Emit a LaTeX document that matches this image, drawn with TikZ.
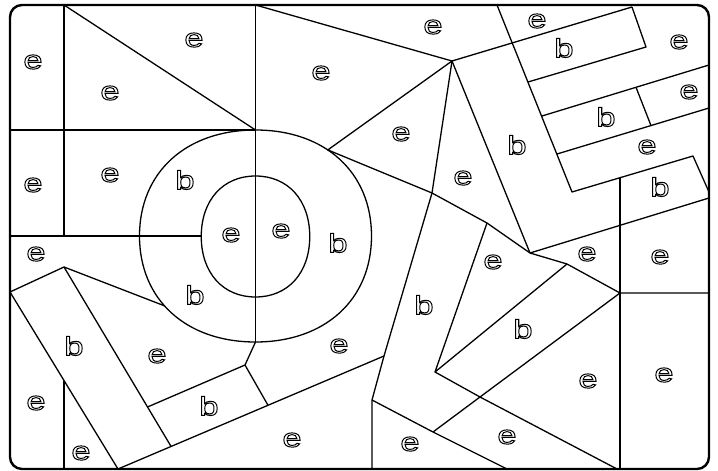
\documentclass[tikz,border=0pt]{standalone}
\usepackage{fontspec}
\newfontfamily\lblfont[FakeStretch=1.33]{Liberation Sans}
\newcommand\outl[1]{\special{pdf:literal direct 1 Tr 1 w}#1\special{pdf:literal direct 0 Tr}}
\tikzset{
  edge/.style={line width=1.3pt, line join=round},
  frame/.style={line width=2.4pt, rounded corners=12pt},
  lbl/.style={inner sep=0pt, font=\lblfont\fontsize{26}{26}\selectfont},
}
\begin{document}
\begin{tikzpicture}[x=1pt,y=-1pt]
\useasboundingbox (0,0) rectangle (718,471);
% ---- vertices
\coordinate (T64) at (64,5);
\coordinate (T255) at (255.5,5);
\coordinate (T497) at (497,5);
\coordinate (P452) at (452,61);
\coordinate (P632) at (632,7);
\coordinate (P512) at (512,43);
\coordinate (P646) at (646,47);
\coordinate (P528) at (528,82);
\coordinate (P542) at (542,116);
\coordinate (R65) at (709,65);
\coordinate (P636) at (636,87.3);
\coordinate (P651) at (651,125.6);
\coordinate (P557) at (557,154);
\coordinate (R108) at (709,108);
\coordinate (P572) at (572,192);
\coordinate (P693) at (693,156);
\coordinate (R192) at (709,192);
\coordinate (P620t) at (620,177.7);
\coordinate (B620) at (620,469);
\coordinate (P432) at (432,193);
\coordinate (P384) at (384,356);
\coordinate (P372) at (372,400);
\coordinate (B372) at (372,469);
\coordinate (P487) at (487,223);
\coordinate (P530) at (530,253);
\coordinate (R198) at (709,198);
\coordinate (P567) at (567,264);
\coordinate (P620) at (620,293);
\coordinate (R293) at (709,293);
\coordinate (P435) at (435,372);
\coordinate (P480) at (480,397);
\coordinate (B617) at (617,469);
\coordinate (P433) at (433,432);
\coordinate (B507) at (507,469);
\coordinate (L130) at (10,130);
\coordinate (P255a) at (255.5,130);
\coordinate (L236) at (10,236);
\coordinate (I236) at (201.25,236);
\coordinate (P64m) at (64,236);
\coordinate (P255b) at (255.5,342);
\coordinate (P245) at (245,365);
\coordinate (P148) at (147.5,407);
\coordinate (P268) at (268,405.3);
\coordinate (B118) at (118,469);
\coordinate (L292) at (10,292);
\coordinate (P64) at (64,267);
\coordinate (P171) at (171.1,446.5);
\coordinate (P64s) at (64,380.5);
\coordinate (B64) at (64,469);

% ---- frame
\draw[frame] (10,5) rectangle (709,469);

% ---- outer and inner rounded shapes
\draw[edge] (371.5,236) .. controls (371.5,172.4) and (325.1,130) .. (255.5,130) node[coordinate,pos=0.59] (cA) {}
  .. controls (185.9,130) and (139.5,172.4) .. (139.5,236)
  .. controls (139.5,299.6) and (185.9,342) .. (255.5,342) node[coordinate,pos=0.44] (cB) {}
  .. controls (325.1,342) and (371.5,299.6) .. (371.5,236) -- cycle;
\draw[edge] (309.75,236.5) .. controls (309.75,200.2) and (288.05,176) .. (255.5,176)
  .. controls (222.95,176) and (201.25,200.2) .. (201.25,236.5)
  .. controls (201.25,272.8) and (222.95,297) .. (255.5,297)
  .. controls (288.05,297) and (309.75,272.8) .. (309.75,236.5) -- cycle;

% ---- left part
\draw[edge] (T64) -- (P64m);
\draw[edge] (L130) -- (P255a);
\draw[edge] (T64) -- (P255a);
\draw[edge] (T255) -- (P255b);
\draw[edge] (L236) -- (I236);
\draw[edge] (L292) -- (P64) -- (cB);
\draw[edge] (L292) -- (B118);
\draw[edge] (P64) -- (P171);
\draw[edge] (P64s) -- (B64);
\draw[edge] (P255b) -- (P245) -- (P148);
\draw[edge] (P245) -- (P268);
\draw[edge] (B118) -- (P384);

% ---- middle part
\draw[edge] (T255) -- (P452);
\draw[edge] (P452) -- (P632);
\draw[edge] (P452) -- (cA) -- (P432) -- (P487) -- (P530);
\draw[edge] (P452) -- (P432) -- (P384) -- (P372) -- (B372);
\draw[edge] (P452) -- (P530);
\draw[edge] (P530) -- (R198);
\draw[edge] (P530) -- (P567) -- (P620) -- (R293);
\draw[edge] (P487) -- (P435) -- (P567);
\draw[edge] (P435) -- (P480) -- (B617);
\draw[edge] (P620) -- (P480) -- (P433);
\draw[edge] (P372) -- (P433) -- (B507);

% ---- right part
\draw[edge] (T497) -- (P572) -- (P693) -- (R192);
\draw[edge] (P632) -- (P646) -- (P528);
\draw[edge] (P542) -- (R65);
\draw[edge] (P636) -- (P651);
\draw[edge] (P557) -- (R108);
\draw[edge] (P620t) -- (B620);

% ---- labels
\foreach \n/\t/\x/\y in {
  a1/e/33/62, a2/e/194/40, a3/e/110/93, a4/e/433/27, a5/e/321/73,
  a6/e/537/21, a7/b/564/48, a8/e/679/42, a9/b/606/117, a10/e/689/92,
  a11/e/401/134, a12/b/517/145, a13/e/647/147, a14/b/660/187,
  a15/e/33/185, a16/e/110/175, a17/b/185/180, a18/e/463/178,
  a19/e/36/254, a20/e/231/235, a21/e/281/231, a22/b/338/243,
  a23/e/493/262, a24/e/587/254, a25/e/660/257, a26/b/195/295,
  a27/b/424/305, a28/b/74/346, a29/e/157/356, a30/e/339/346,
  a31/b/523/329, a32/e/588/381, a33/e/664/375, a34/e/36/403,
  a35/b/209/406, a36/e/81/453, a37/e/292/440, a38/e/410/444, a39/e/507/437}
  \node[lbl] (\n) at (\x,\y) {\outl{\t}};
\end{tikzpicture}
\end{document}
